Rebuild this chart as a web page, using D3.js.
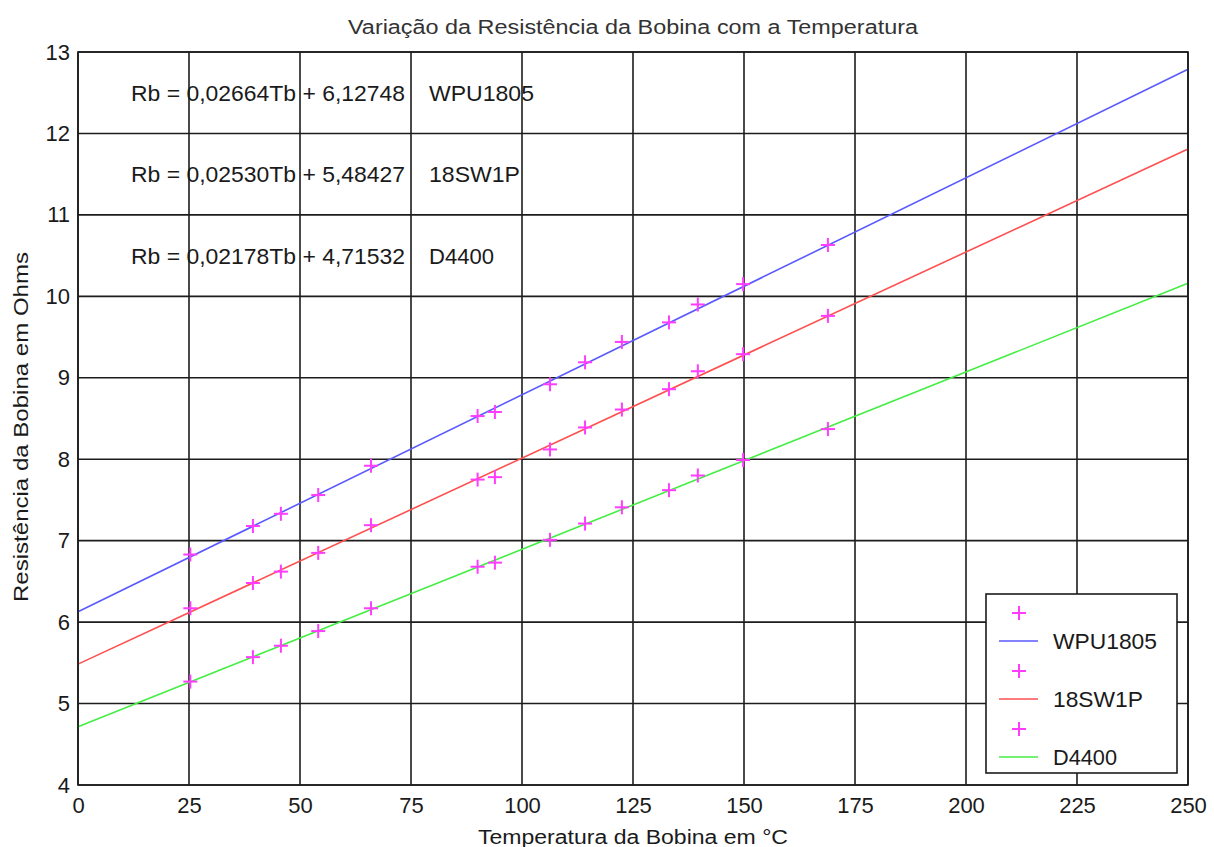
<!DOCTYPE html>
<html>
<head>
<meta charset="utf-8">
<script src="https://cdn.jsdelivr.net/npm/d3@7"></script>
<style>
  body { margin: 0; background: #fff; }
  svg { display: block; }
  text { font-family: "Liberation Sans", Arial, sans-serif; fill: #1a1a1a; }
</style>
</head>
<body>
<script>
// temperaturas medidas (ºC)
var temps = [25.3, 39.4, 45.7, 54.1, 66.0, 90.0, 93.9, 106.3, 114.2, 122.5, 133.1, 139.6, 149.8, 168.9];

// resistencias medidas (Ohms)
var wpu1805 = [6.83, 7.18, 7.33, 7.56, 7.92, 8.53, 8.58, 8.92, 9.19, 9.44, 9.68, 9.90, 10.15, 10.63];
var sw18 = [6.17, 6.48, 6.62, 6.85, 7.19, 7.75, 7.78, 8.12, 8.39, 8.61, 8.86, 9.08, 9.29, 9.76];
var d4400 = [5.27, 5.57, 5.71, 5.89, 6.17, 6.68, 6.73, 7.01, 7.21, 7.41, 7.62, 7.80, 7.99, 8.37];

var names = ["WPU1805", "18SW1P", "D4400"];
var slopes = [0.02664, 0.02530, 0.02178];
var intercepts = [6.12748, 5.48427, 4.71532];
var eqTexts = ["Rb = 0,02664Tb + 6,12748", "Rb = 0,02530Tb + 5,48427", "Rb = 0,02178Tb + 4,71532"];
var lineColors = ["#5a5aff", "#ff5050", "#44ee44"];
var markerColor = "#ff3cff";

var xTicks = [0, 25, 50, 75, 100, 125, 150, 175, 200, 225, 250];
var yTicks = [4, 5, 6, 7, 8, 9, 10, 11, 12, 13];

var width = 1214, height = 847;
var margin = {left: 78, right: 26, top: 52, bottom: 62};

var svg = d3.select("body").append("svg")
  .attr("width", width)
  .attr("height", height);

var x = d3.scaleLinear().domain([0, 250]).range([margin.left, width - margin.right]);
var y = d3.scaleLinear().domain([4, 13]).range([height - margin.bottom, margin.top]);

var series = [wpu1805, sw18, d4400];

// titulo
svg.append("text")
  .attr("x", (x(0) + x(250)) / 2)
  .attr("y", 34)
  .attr("text-anchor", "middle")
  .attr("textLength", 570)
  .attr("lengthAdjust", "spacingAndGlyphs")
  .style("font-size", "20px")
  .style("fill", "#333")
  .text("Variação da Resistência da Bobina com a Temperatura");

// equacoes (ficam por baixo da grelha)
var eqG = svg.append("g");
eqTexts.forEach(function(t, i) {
  var yy = y(12.5 - i);
  eqG.append("text")
    .attr("x", 131)
    .attr("y", yy)
    .attr("dy", "0.36em")
    .attr("textLength", 274)
    .attr("lengthAdjust", "spacingAndGlyphs")
    .style("font-size", "22px")
    .text(t);
  eqG.append("text")
    .attr("x", 429)
    .attr("y", yy)
    .attr("dy", "0.36em")
    .attr("textLength", [105, 91, 65][i])
    .attr("lengthAdjust", "spacingAndGlyphs")
    .style("font-size", "22px")
    .text(names[i]);
});

// grelha
var grid = svg.append("g").attr("stroke", "#1c1c1c").attr("stroke-width", 1.6);
grid.selectAll(".vx").data(xTicks).enter().append("line")
  .attr("x1", d => x(d)).attr("x2", d => x(d))
  .attr("y1", y(4)).attr("y2", y(13));
grid.selectAll(".hy").data(yTicks).enter().append("line")
  .attr("x1", x(0)).attr("x2", x(250))
  .attr("y1", d => y(d)).attr("y2", d => y(d));

// eixos
var xAxis = d3.axisBottom(x).tickValues(xTicks).tickSize(0).tickPadding(12);
var yAxis = d3.axisLeft(y).tickValues(yTicks).tickSize(0).tickPadding(8);

var gx = svg.append("g").attr("transform", "translate(0," + y(4) + ")").call(xAxis);
var gy = svg.append("g").attr("transform", "translate(" + x(0) + ",0)").call(yAxis);
[gx, gy].forEach(function(g) {
  g.select(".domain").remove();
  g.selectAll("text").style("font-size", "22px").style("font-family", "'Liberation Sans', Arial, sans-serif").attr("fill", "#1a1a1a");
});

// rotulos dos eixos
svg.append("text")
  .attr("x", (x(0) + x(250)) / 2)
  .attr("y", 844)
  .attr("text-anchor", "middle")
  .attr("textLength", 310)
  .attr("lengthAdjust", "spacingAndGlyphs")
  .style("font-size", "20px")
  .text("Temperatura da Bobina em °C");

svg.append("text")
  .attr("transform", "translate(28," + 427 + ") rotate(-90)")
  .attr("text-anchor", "middle")
  .attr("textLength", 350)
  .attr("lengthAdjust", "spacingAndGlyphs")
  .style("font-size", "20px")
  .text("Resistência da Bobina em Ohms");

// retas ajustadas
var line = d3.line().x(d => x(d[0])).y(d => y(d[1]));
slopes.forEach(function(m, i) {
  svg.append("path")
    .datum([[0, intercepts[i]], [250, intercepts[i] + m * 250]])
    .attr("d", line)
    .attr("fill", "none")
    .attr("stroke", lineColors[i])
    .attr("stroke-width", 1.6);
});

// pontos medidos
function plus(g, cx, cy, r) {
  g.append("line").attr("x1", cx - r).attr("x2", cx + r).attr("y1", cy).attr("y2", cy);
  g.append("line").attr("x1", cx).attr("x2", cx).attr("y1", cy - r).attr("y2", cy + r);
}
var marks = svg.append("g").attr("stroke", markerColor).attr("stroke-width", 2);
series.forEach(function(vals) {
  vals.forEach(function(v, j) {
    plus(marks, x(temps[j]), y(v), 7);
  });
});

// contorno
svg.append("rect")
  .attr("x", x(0)).attr("y", y(13))
  .attr("width", x(250) - x(0)).attr("height", y(4) - y(13))
  .attr("fill", "none").attr("stroke", "#1c1c1c").attr("stroke-width", 1.6);

// legenda
var leg = svg.append("g").attr("transform", "translate(986,594)");
leg.append("rect")
  .attr("width", 191).attr("height", 179)
  .attr("fill", "#fff").attr("stroke", "#1c1c1c").attr("stroke-width", 1.6);
names.forEach(function(n, i) {
  var base = i * 58;
  var mg = leg.append("g").attr("stroke", markerColor).attr("stroke-width", 2);
  plus(mg, 33, 19 + base, 7);
  leg.append("line")
    .attr("x1", 13).attr("x2", 52)
    .attr("y1", 47 + base).attr("y2", 47 + base)
    .attr("stroke", lineColors[i]).attr("stroke-width", 1.6);
  leg.append("text")
    .attr("x", 67).attr("y", 47 + base)
    .attr("dy", "0.36em")
    .attr("textLength", [104, 90, 64][i])
    .attr("lengthAdjust", "spacingAndGlyphs")
    .style("font-size", "22px")
    .text(n);
});
</script>
</body>
</html>
